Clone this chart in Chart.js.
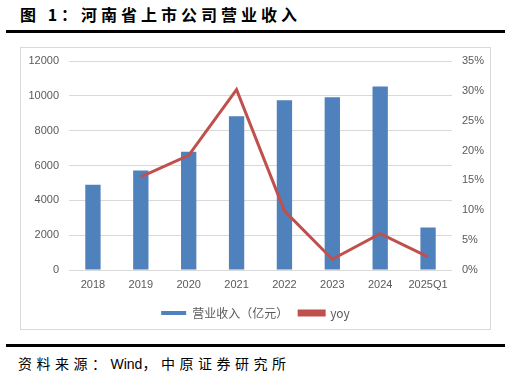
<!DOCTYPE html>
<html>
<head>
<meta charset="utf-8">
<script src="https://cdn.jsdelivr.net/npm/chart.js@4/dist/chart.umd.min.js"></script>
<style>
  body { margin: 0; width: 511px; height: 378px; background: #fff; position: relative; font-family: "Noto Sans CJK SC", sans-serif; overflow: hidden; }
  .title { position: absolute; left: 20px; top: 2px; font-size: 16px; font-weight: bold; letter-spacing: 4px; color: #000; }
  .rule { position: absolute; left: 6px; width: 499px; height: 3px; background: #000; }
  .box { position: absolute; left: 20px; top: 47px; width: 469px; height: 281px; border: 1px solid #d9d9d9; }
  .source { position: absolute; left: 18px; top: 353px; font-size: 14px; letter-spacing: 4.5px; color: #000; }
  .source span { letter-spacing: 0; font-family: "Liberation Sans", Arial, sans-serif; font-size: 14px; }
</style>
</head>
<body>
<div class="title">图 1：河南省上市公司营业收入</div>
<div class="rule" style="top:30px"></div>
<div class="box"><canvas id="chart" width="469" height="281"></canvas></div>
<div class="rule" style="top:344px"></div>
<div class="source">资料来源：<span>Wind</span>，中原证券研究所</div>
<script>
// categories and values
const years = ["2018", "2019", "2020", "2021", "2022", "2023", "2024", "2025Q1"];
const revenue = [4900, 5710, 6790, 8830, 9750, 9920, 10540, 2440];
const yoy = [null, 15.6, 19.2, 30.2, 9.9, 1.8, 6.1, 2.2];

const gray = "#595959";
const tickFont = { family: "Liberation Sans, Arial, sans-serif", size: 11 };

// fixed axis widths so the plot area lines up with the picture
function fixY(width) {
  return (s) => {
    s.width = width;
    s.paddingTop = 0;
    s.paddingBottom = 0;
  };
}

const ctx = document.getElementById("chart").getContext("2d");
new Chart(ctx, {
  data: {
    labels: years,
    datasets: [
      {
        type: "line",
        label: "yoy",
        data: yoy,
        yAxisID: "y1",
        borderColor: "#c0504d",
        backgroundColor: "#c0504d",
        borderWidth: 3,
        pointRadius: 0,
        tension: 0,
        order: 0
      },
      {
        type: "bar",
        label: "营业收入（亿元）",
        data: revenue,
        yAxisID: "y",
        backgroundColor: "#4f81bd",
        barPercentage: 0.32,
        categoryPercentage: 1,
        order: 1
      }
    ]
  },
  options: {
    responsive: false,
    animation: false,
    layout: { padding: { top: 13, left: 0, right: 0, bottom: 0 } },
    scales: {
      x: {
        grid: { display: false, drawTicks: false },
        border: { display: false },
        ticks: { color: gray, font: tickFont, padding: 8, maxRotation: 0 },
        afterFit: (s) => { s.height = 26; }
      },
      y: {
        position: "left",
        min: 0,
        max: 12000,
        ticks: { stepSize: 2000, color: gray, font: tickFont, padding: 10, callback: (v) => String(v) },
        grid: { color: "#d9d9d9", drawTicks: false },
        border: { display: false },
        afterFit: fixY(48)
      },
      y1: {
        position: "right",
        min: 0,
        max: 35,
        ticks: { stepSize: 5, color: gray, font: tickFont, padding: 10, callback: (v) => v + "%" },
        grid: { display: false, drawTicks: false },
        border: { display: false },
        afterFit: fixY(38)
      }
    },
    plugins: {
      legend: {
        position: "bottom",
        reverse: true,
        labels: {
          color: gray,
          font: { family: "Noto Sans CJK SC, sans-serif", size: 12 },
          boxWidth: 25,
          boxHeight: 4,
          padding: 11
        }
      },
      tooltip: { enabled: false }
    }
  }
});
</script>
</body>
</html>
